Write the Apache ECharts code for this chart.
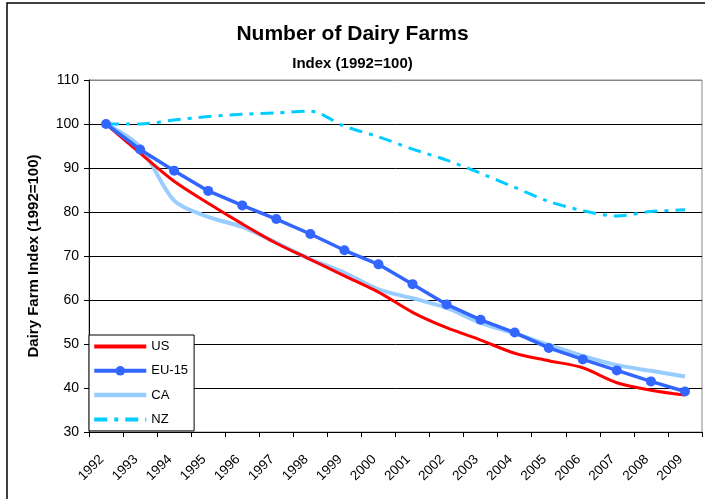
<!DOCTYPE html>
<html>
<head>
<meta charset="utf-8">
<script src="https://cdn.jsdelivr.net/npm/echarts@6/dist/echarts.min.js"></script>
<style>
  html, body { margin: 0; padding: 0; background: #fff; }
  #chart { width: 705px; height: 499px; }
</style>
</head>
<body>
<div id="chart"></div>
<script>
// Dairy farm counts, indexed so that 1992 = 100
const years = ['1992','1993','1994','1995','1996','1997','1998','1999','2000',
               '2001','2002','2003','2004','2005','2006','2007','2008','2009'];
const usValues   = [100, 93.4, 87.0, 82.0, 77.3, 72.9, 69.2, 65.5, 61.8, 57.2, 53.7, 50.9, 47.9, 46.2, 44.6, 41.2, 39.5, 38.4];
const euValues   = [100, 94.2, 89.4, 84.8, 81.5, 78.4, 75.0, 71.3, 68.1, 63.6, 59.0, 55.5, 52.6, 49.1, 46.5, 44.0, 41.5, 39.2];
const caValues   = [100, 94.8, 82.6, 78.9, 76.6, 73.0, 69.3, 66.2, 62.4, 60.4, 58.2, 54.8, 52.4, 49.8, 47.3, 45.2, 43.9, 42.6];
const nzValues   = [100, 100.0, 100.9, 101.7, 102.2, 102.5, 102.9, 99.5, 97.1, 94.3, 91.8, 88.8, 85.6, 82.4, 80.3, 79.1, 80.1, 80.5];
const yTicks = { min: 30, max: 110, step: 10 };

const FONT = '"Liberation Sans", Arial, sans-serif';
const chart = echarts.init(document.getElementById('chart'), null, { renderer: 'canvas' });

// legend swatches: thick lines, only EU-15 keeps its marker
const swatch = (name, width, withMarker) => ({
  name,
  lineStyle: { width },
  itemStyle: withMarker ? {} : { opacity: 0 }
});

chart.setOption({
  backgroundColor: '#fff',
  animation: false,
  title: [
    { text: 'Number of Dairy Farms', left: 'center', top: 19,
      textStyle: { fontFamily: FONT, fontWeight: 'bold', fontSize: 21, color: '#000' } },
    { text: 'Index (1992=100)', left: 'center', top: 51,
      textStyle: { fontFamily: FONT, fontWeight: 'bold', fontSize: 15, color: '#000' } }
  ],
  graphic: [{
    type: 'rect', silent: true, z: -1,
    shape: { x: 7, y: 3, width: 740, height: 540 },
    style: { fill: 'none', stroke: '#000', lineWidth: 1.5 }
  }],
  grid: { left: 89, right: 3, top: 80, bottom: 67, show: true,
          borderColor: '#888', borderWidth: 1, backgroundColor: 'transparent' },
  legend: {
    data: [
      swatch('US', 4, false),
      swatch('EU-15', 4, true),
      swatch('CA', 4.5, false),
      swatch('NZ', 4, false)
    ],
    orient: 'vertical',
    left: 89, top: 335,
    itemWidth: 52, itemHeight: 12, itemGap: 11.3,
    padding: [5, 6, 5, 3],
    backgroundColor: '#fff',
    borderColor: '#000', borderWidth: 1,
    textStyle: { fontFamily: FONT, fontSize: 13, color: '#000' }
  },
  xAxis: {
    type: 'category',
    data: years,
    boundaryGap: true,
    axisLine: { lineStyle: { color: '#000', width: 1 } },
    axisTick: { show: true, length: 5, lineStyle: { color: '#000' } },
    axisLabel: { rotate: 45, fontFamily: FONT, fontSize: 13.5, color: '#000', margin: 21,
                 padding: [0, 6, 0, 0], interval: 0 },
    splitLine: { show: false }
  },
  yAxis: {
    type: 'value',
    min: yTicks.min, max: yTicks.max, interval: yTicks.step,
    name: 'Dairy Farm Index (1992=100)',
    nameLocation: 'middle', nameGap: 48, nameRotate: 90,
    nameTextStyle: { fontFamily: FONT, fontWeight: 'bold', fontSize: 15, color: '#000' },
    axisLine: { show: true, lineStyle: { color: '#000', width: 1 } },
    axisTick: { show: true, length: 5, lineStyle: { color: '#000' } },
    axisLabel: { fontFamily: FONT, fontSize: 14, color: '#000', margin: 10 },
    splitLine: { show: true, lineStyle: {
      color: ['#000', '#000', '#000', '#000', '#000', '#000', '#000', '#000', '#888'], width: 1 } }
  },
  series: [
    { name: 'CA', type: 'line', data: caValues, smooth: 0.3, symbol: 'none', z: 2,
      lineStyle: { color: '#99CCFF', width: 4 }, itemStyle: { color: '#99CCFF' } },
    { name: 'NZ', type: 'line', data: nzValues, smooth: 0.3, symbol: 'none', z: 2,
      lineStyle: { color: '#00CCFF', width: 3, type: [13, 7, 4, 7] }, itemStyle: { color: '#00CCFF' } },
    { name: 'US', type: 'line', data: usValues, smooth: 0.3, symbol: 'none', z: 3,
      lineStyle: { color: '#FF0000', width: 3 }, itemStyle: { color: '#FF0000' } },
    { name: 'EU-15', type: 'line', data: euValues, smooth: false, symbol: 'circle', symbolSize: 10, z: 4,
      showSymbol: true,
      lineStyle: { color: '#3366FF', width: 3.5 }, itemStyle: { color: '#3366FF' } }
  ]
});
</script>
</body>
</html>
